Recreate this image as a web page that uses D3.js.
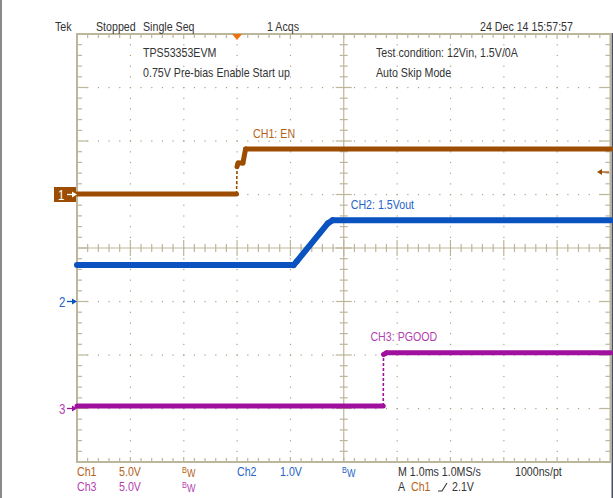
<!DOCTYPE html>
<html>
<head>
<meta charset="utf-8">
<script src="https://cdn.jsdelivr.net/npm/d3@7"></script>
<style>
  html, body { margin: 0; padding: 0; background: #fff; }
  svg { display: block; }
  text { font-family: "Liberation Sans", Arial, sans-serif; font-size: 13px; }
</style>
</head>
<body>
<svg id="scope" width="613" height="498"></svg>
<script>
// ---- acquisition data (time in ms relative to trigger, volts) ----
const ch1Time  = [-3, -0.01, 0.0, 0.02, 0.11, 0.16, 7];
const ch1Volts = [0.05, 0.05, 2.6, 2.95, 2.95, 4.25, 4.25];

const ch2Time  = [-3, 1.06, 1.12, 1.70, 1.79, 7];
const ch2Volts = [0.68, 0.68, 0.75, 1.46, 1.52, 1.52];

const ch3Time  = [-3, 2.74, 2.745, 2.80, 7];
const ch3Volts = [0.23, 0.23, 5.05, 5.2, 5.2];

// ---- scope settings ----
const timeDomain   = [-3, 7];          // 1.0 ms/div, trigger 3 div from left
const voltsPerDiv  = [5, 1, 5];        // Ch1, Ch2, Ch3
const groundDivs   = [1, -1, -3];      // ground marker position in divisions from centre
const triggerLevel = 2.1;              // volts on Ch1

// ---- readout text ----
const headerLabels = ["Tek", "Stopped", "Single Seq", "1 Acqs", "24 Dec 14 15:57:57"];
const noteLabels   = ["TPS53353EVM", "0.75V Pre-bias Enable Start up", "Test condition: 12Vin, 1.5V/0A", "Auto Skip Mode"];
const traceLabels  = ["CH1: EN", "CH2: 1.5Vout", "CH3: PGOOD"];
const chanNames    = ["Ch1", "Ch2", "Ch3"];
const chanScaleTxt = ["5.0V", "1.0V", "5.0V"];
const timebaseTxt  = ["M 1.0ms 1.0MS/s", "1000ns/pt"];

const colors     = ["#9c4d02", "#0a52bf", "#a0109e"];
const textColors = ["#b4621a", "#2663c6", "#b23fb0"];
const gridColor  = "#bdb69a";
const dotColor   = "#aaa282";
const inkColor   = "#333333";

const svg = d3.select("#scope");

// narrow readout lettering: a horizontally condensed sans
const squeeze = 0.82;
function label(parent, xx, yy, str, col, size) {
  const t = parent.append("text")
    .attr("transform", `translate(${xx},${yy}) scale(${squeeze},1)`)
    .attr("fill", col);
  if (size) t.style("font-size", size + "px");
  if (str !== null) t.text(str);
  return t;
}

// graticule geometry
const gx0 = 77, gx1 = 610.5, gy0 = 34, gy1 = 462;
const nX = 10, nY = 8;
const divX = (gx1 - gx0) / nX, divY = (gy1 - gy0) / nY;
const cx = gx0 + divX * nX / 2, cy = gy0 + divY * nY / 2;

const x = d3.scaleLinear().domain(timeDomain).range([gx0, gx1]);
const yScales = voltsPerDiv.map((vd, i) =>
  d3.scaleLinear()
    .domain([(-nY / 2 - groundDivs[i]) * vd, (nY / 2 - groundDivs[i]) * vd])
    .range([gy1, gy0]));

// window borders
svg.append("rect").attr("x", 0).attr("y", 0).attr("width", 2).attr("height", 498).attr("fill", "#8a8a8a");
svg.append("rect").attr("x", 611.5).attr("y", gy0 - 1).attr("width", 1.5).attr("height", 498 - gy0 + 1).attr("fill", "#4a5060");

const grat = svg.append("g");

// dotted division lines
const minor = 5;
for (let i = 1; i < nY; i++) {
  if (i === nY / 2) continue;
  const yy = gy0 + i * divY;
  for (let k = 1; k < nX * minor; k++) {
    grat.append("rect").attr("x", gx0 + k * divX / minor - 0.5).attr("y", yy - 0.5)
      .attr("width", 1.2).attr("height", 1.2).attr("fill", dotColor);
  }
}
for (let i = 1; i < nX; i++) {
  if (i === nX / 2) continue;
  const xx = gx0 + i * divX;
  for (let k = 1; k < nY * minor; k++) {
    grat.append("rect").attr("x", xx - 0.5).attr("y", gy0 + k * divY / minor - 0.5)
      .attr("width", 1.2).attr("height", 1.2).attr("fill", dotColor);
  }
}

// centre cross with ticks
grat.append("line").attr("x1", gx0).attr("x2", gx1).attr("y1", cy).attr("y2", cy)
  .attr("stroke", gridColor).attr("stroke-width", 1.2);
grat.append("line").attr("x1", cx).attr("x2", cx).attr("y1", gy0).attr("y2", gy1)
  .attr("stroke", gridColor).attr("stroke-width", 1.2);
for (let k = 1; k < nX * minor; k++) {
  const xx = gx0 + k * divX / minor, h = (k % minor === 0) ? 8 : 4;
  grat.append("line").attr("x1", xx).attr("x2", xx).attr("y1", cy - h).attr("y2", cy + h)
    .attr("stroke", gridColor).attr("stroke-width", 1.2);
  // top and bottom edge ticks
  const e = (k % minor === 0) ? 5 : 4;
  grat.append("line").attr("x1", xx).attr("x2", xx).attr("y1", gy0).attr("y2", gy0 + e)
    .attr("stroke", gridColor).attr("stroke-width", 1.2);
  grat.append("line").attr("x1", xx).attr("x2", xx).attr("y1", gy1).attr("y2", gy1 - e)
    .attr("stroke", gridColor).attr("stroke-width", 1.2);
}
for (let k = 1; k < nY * minor; k++) {
  const yy = gy0 + k * divY / minor, h = (k % minor === 0) ? 8 : 4;
  grat.append("line").attr("x1", cx - h).attr("x2", cx + h).attr("y1", yy).attr("y2", yy)
    .attr("stroke", gridColor).attr("stroke-width", 1.2);
  const e = (k % minor === 0) ? 11 : 5;
  grat.append("line").attr("x1", gx0).attr("x2", gx0 + e).attr("y1", yy).attr("y2", yy)
    .attr("stroke", gridColor).attr("stroke-width", 1.2);
  grat.append("line").attr("x1", gx1).attr("x2", gx1 - e).attr("y1", yy).attr("y2", yy)
    .attr("stroke", gridColor).attr("stroke-width", 1.2);
}
// outer frame
grat.append("rect").attr("x", gx0).attr("y", gy0).attr("width", gx1 - gx0).attr("height", gy1 - gy0)
  .attr("fill", "none").attr("stroke", gridColor).attr("stroke-width", 2);

// ---- traces ----
const traces = [
  { t: ch1Time, v: ch1Volts },
  { t: ch2Time, v: ch2Volts },
  { t: ch3Time, v: ch3Volts }
];
const traceG = svg.append("g");
traces.forEach((tr, i) => {
  const pts = tr.t.map((t, j) => [x(t), yScales[i](tr.v[j])]);
  for (let j = 0; j < pts.length - 1; j++) {
    const [ax, ay] = pts[j], [bx, by] = pts[j + 1];
    const fastEdge = Math.abs(bx - ax) < 1.5 && Math.abs(by - ay) > 6;
    traceG.append("line")
      .attr("x1", ax).attr("y1", ay).attr("x2", bx).attr("y2", by)
      .attr("stroke", colors[i])
      .attr("stroke-width", fastEdge ? 1.6 : (i === 1 ? 6 : 5))
      .attr("stroke-dasharray", fastEdge ? "3,2" : null)
      .attr("stroke-linecap", fastEdge ? "butt" : "round");
  }
});

// trace labels
const labelAnchors = [[0.3, 4.25, 16], [2.13, 1.52, 16], [2.5, 5.2, 16]];
traceLabels.forEach((s, i) => {
  const [t, v, dy] = labelAnchors[i];
  label(svg, x(t), yScales[i](v) - dy + 4.5, s, textColors[i]);
});

// ---- ground markers ----
const g1y = yScales[0](0);
svg.append("rect").attr("x", 54).attr("y", g1y - 7.5).attr("width", 22).attr("height", 15).attr("fill", colors[0]);
label(svg, 58, g1y + 5, "1", "#fff", 14);
const arrow = (yy, col) => {
  svg.append("line").attr("x1", 67).attr("x2", 73).attr("y1", yy).attr("y2", yy).attr("stroke", col).attr("stroke-width", 1.3);
  svg.append("path").attr("d", `M${72},${yy - 3}L${77},${yy}L${72},${yy + 3}Z`).attr("fill", col);
};
arrow(g1y, "#fff");
[1, 2].forEach(i => {
  const yy = yScales[i](0);
  label(svg, 59, yy + 5, String(i + 1), textColors[i], 14);
  arrow(yy, colors[i]);
});

// trigger position (top) and trigger level (right)
const tx = x(0);
svg.append("path").attr("d", `M${tx - 5},${gy0}L${tx + 5},${gy0}L${tx},${gy0 + 6}Z`).attr("fill", "#f07010");
const ty = yScales[0](triggerLevel);
svg.append("line").attr("x1", 601).attr("x2", 609).attr("y1", ty).attr("y2", ty).attr("stroke", colors[0]).attr("stroke-width", 1.3);
svg.append("path").attr("d", `M${602},${ty - 3}L${597},${ty}L${602},${ty + 3}Z`).attr("fill", colors[0]);

// ---- header readout ----
const headerX = [55, 96, 143, 267, 480];
headerLabels.forEach((s, i) => label(svg, headerX[i], 31, s, inkColor));
const noteXY = [[143, 57], [143, 77], [376, 57], [376, 77]];
noteLabels.forEach((s, i) => label(svg, noteXY[i][0], noteXY[i][1], s, inkColor));

// ---- bottom readout ----
const bw = (xx, yy, col) => {
  const t = label(svg, xx, yy, null, col);
  t.append("tspan").style("font-size", "9px").attr("dy", -3).text("B");
  t.append("tspan").style("font-size", "11px").attr("dy", 4).text("W");
};
const row1 = 476, row2 = 491;
label(svg, 77, row1, chanNames[0], textColors[0]);
label(svg, 119, row1, chanScaleTxt[0], textColors[0]);
bw(182, row1, textColors[0]);
label(svg, 237, row1, chanNames[1], textColors[1]);
label(svg, 280, row1, chanScaleTxt[1], textColors[1]);
bw(342, row1, textColors[1]);
label(svg, 398, row1, timebaseTxt[0], inkColor);
label(svg, 515, row1, timebaseTxt[1], inkColor);

label(svg, 77, row2, chanNames[2], textColors[2]);
label(svg, 119, row2, chanScaleTxt[2], textColors[2]);
bw(182, row2, textColors[2]);
label(svg, 398, row2, "A", inkColor);
label(svg, 411, row2, chanNames[0], textColors[0]);
svg.append("path").attr("d", `M438,${row2}L442,${row2}L447,${row2 - 8}`).attr("fill", "none").attr("stroke", inkColor).attr("stroke-width", 1.1);
label(svg, 452, row2, triggerLevel.toFixed(1) + "V", inkColor);
</script>
</body>
</html>
